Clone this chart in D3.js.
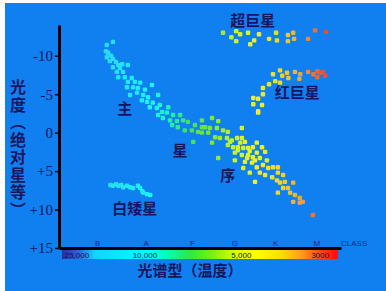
<!DOCTYPE html>
<html>
<head>
<meta charset="utf-8">
<script src="https://cdn.jsdelivr.net/npm/d3@7"></script>
<style>
body { margin: 0; background: #fff; }
svg { display: block; }
.cjk { font-family: "Noto Sans CJK SC", sans-serif; font-weight: bold; fill: #16165e; }
.tick text { font-family: "Liberation Serif", serif; font-size: 15px; fill: #14145a; }
.small { font-family: "Liberation Sans", Arial, sans-serif; font-size: 8px; }
</style>
</head>
<body>
<div id="chart"></div>
<script>
var w = 386,
	h = 291;

// x = spectral position (B0 = 10, A0 = 20 ... M0 = 60), y = absolute magnitude
var mainSequence = [
	[12.1,-11.4],[13.5,-11.8],[11.9,-10.6],[12.4,-10.4],[13.1,-10.0],[12.1,-9.8],[13.5,-9.6],
	[12.8,-9.3],[14.2,-9.2],[14.7,-8.8],[13.5,-8.5],[15.6,-8.9],[16.9,-8.8],[15.1,-8.4],
	[14.4,-7.9],[15.8,-7.9],[14.7,-7.2],[16.2,-7.2],[17.8,-7.1],[16.9,-6.6],[18.5,-6.6],
	[16.7,-5.9],[18.1,-5.9],[19.7,-6.5],[19.2,-5.8],[20.8,-5.6],[22.4,-6.2],[17.4,-4.9],
	[19.0,-5.2],[20.4,-4.9],[21.5,-4.6],[23.8,-4.9],[20.1,-4.2],[21.3,-4.0],[22.6,-3.9],
	[24.2,-3.6],[26.1,-3.3],[21.9,-3.3],[23.5,-3.2],[24.7,-2.7],[25.8,-2.6],[27.2,-2.3],
	[28.8,-2.3],[23.8,-2.3],[24.9,-1.9],[26.5,-1.6],[28.1,-1.5],[29.5,-1.6],[30.6,-1.4],
	[32.2,-1.0],[33.8,-0.7],[27.0,-1.0],[28.3,-0.7],[29.9,-0.3],[31.5,-0.3],[32.9,-0.1],
	[33.8,-1.6],[36.1,-1.9],[37.5,-1.5],[34.5,-0.7],[35.6,-0.6],[37.2,-0.6],[38.6,-0.3],
	[39.7,-0.1],[33.8,0.0],[35.2,0.0],[36.8,0.6],[37.9,0.7],[31.8,1.2],[36.1,1.3],[42.9,-0.6],
	[39.5,0.7],[40.6,1.0],[41.8,0.7],[42.9,0.7],[43.6,1.2],[39.7,1.6],[40.9,1.9],[42.0,1.9],
	[43.2,2.0],[44.3,2.0],[45.4,1.9],[46.3,1.3],[47.5,1.9],[48.2,2.5],[41.3,2.6],[42.9,2.9],
	[44.3,2.9],[45.4,3.2],[46.3,2.6],[47.0,3.3],[48.6,3.6],[37.5,3.3],[41.3,3.6],[43.6,3.8],
	[45.2,3.9],[46.3,4.5],[47.7,4.2],[48.9,4.6],[50.0,4.5],[51.1,4.5],[43.2,4.6],[44.7,5.2],
	[47.0,5.2],[48.2,5.5],[49.8,5.8],[51.1,5.2],[52.3,5.5],[45.9,6.4],[50.9,6.2],[51.6,6.5],
	[52.7,6.4],[54.6,6.5],[51.1,7.8],[52.3,7.2],[53.4,7.2],[53.9,7.8],[55.0,8.1],[56.1,8.5],
	[56.8,9.0],[56.1,9.1],[54.6,9.0],[59.1,10.7],
	[40.2,1.2],[42.5,1.3],[44.7,2.4],[45.9,3.6],[42.0,2.3],[44.1,3.3]
];

var whiteDwarfs = [
	[12.9,6.8],[13.5,6.9],[14.2,6.7],[14.7,6.9],[15.4,6.8],[15.8,7.1],[16.7,6.9],[17.4,7.1],
	[18.1,7.2],[19.2,6.9],[19.7,7.2],[20.2,7.6],[20.4,7.8],[21.3,8.0],[22.0,8.1]
];

var redGiants = [
	[50.0,-7.6],[51.6,-8.1],[52.1,-7.4],[53.2,-7.8],[53.5,-7.1],[55.0,-7.9],[56.2,-7.6],[56.0,-7.0],
	[58.0,-7.9],[59.2,-7.6],[60.1,-8.0],[60.7,-7.8],[61.4,-7.9],[60.1,-7.2],[61.9,-7.4],
	[51.6,-6.5],[50.5,-6.7],[49.1,-6.3],[47.7,-5.8],[47.7,-5.0],[45.5,-4.5],[46.6,-4.4],
	[45.5,-3.7],[47.5,-3.6],[46.6,-2.8],[46.6,-2.6]
];

var supergiants = [
	[38.6,-13.0],[40.5,-12.4],[41.6,-13.2],[41.6,-11.9],[42.5,-12.8],[44.3,-13.0],[44.8,-11.5],
	[45.7,-12.0],[46.8,-12.8],[49.1,-12.2],[50.7,-13.0],[50.9,-12.0],[53.4,-12.7],[54.6,-13.0],
	[53.4,-11.9],[54.8,-12.2],[58.0,-12.2],[59.6,-13.3],[62.1,-13.1]
];

var yTicks = [-10, -5, 0, 5, 10, 15];
var yTickLabels = ['-10', '-5', '0', '+5', '+10', '+15'];

var classNames = ['B', 'A', 'F', 'G', 'K', 'M'];
var classPos = [10, 21.1, 31.6, 41.3, 50.6, 60];

var tempLabels = ['25,000', '10,000', '5,000', '3000'];
var tempPos = [2.5, 18, 40.5, 58.7];

// colour band along the spectral axis
var bandPos = [1.9, 6, 9.4, 22, 26, 31, 35.7, 41.4, 46, 51.6, 56.2, 60.3, 64.2];
var bandColors = ['#2b2ba0', '#2f6ae0', '#10d8f8', '#00ffff', '#00ffb0', '#30e840', '#70f010',
	'#d8ff00', '#ffff00', '#ffe000', '#ffa020', '#ff5010', '#ff1010'];

var regionLabels = [
	{ text: '超巨星', x: 45.4, y: -14.5 },
	{ text: '红巨星', x: 55.5, y: -5.2 },
	{ text: '主', x: 16.2, y: -3.1 },
	{ text: '星', x: 28.8, y: 2.3 },
	{ text: '序', x: 39.7, y: 5.6 },
	{ text: '白矮星', x: 18.5, y: 9.9 }
];

var x = d3.scaleLinear().domain([1.2, 65.5]).range([59, 341]);
var y = d3.scaleLinear().domain([-14, 15]).range([25, 248]);
var color = d3.scaleLinear().domain(bandPos).range(bandColors).clamp(true);

var svg = d3.select('#chart').append('svg')
	.attr('width', w)
	.attr('height', h);

svg.append('rect')
	.attr('x', 5)
	.attr('y', 3)
	.attr('width', w - 5)
	.attr('height', h - 3)
	.attr('fill', '#1080f0');

// colour bar gradient
var grad = svg.append('defs').append('linearGradient')
	.attr('id', 'band')
	.attr('gradientUnits', 'userSpaceOnUse')
	.attr('x1', x(bandPos[0])).attr('x2', x(bandPos[bandPos.length - 1]))
	.attr('y1', 0).attr('y2', 0);
grad.selectAll('stop')
	.data(bandPos)
	.enter().append('stop')
		.attr('offset', function(d){ return (x(d) - x(bandPos[0])) / (x(bandPos[bandPos.length - 1]) - x(bandPos[0])); })
		.attr('stop-color', function(d,i){ return bandColors[i]; });

svg.append('rect')
	.attr('x', 62)
	.attr('y', 250)
	.attr('width', x(64.8) - 62)
	.attr('height', 9)
	.attr('fill', 'url(#band)');

// stars
var groups = [mainSequence, whiteDwarfs, redGiants, supergiants];
groups.forEach(function(data){
	svg.append('g').selectAll('rect')
		.data(data)
		.enter().append('rect')
			.attr('x', function(d){ return x(d[0]) - 2.2; })
			.attr('y', function(d){ return y(d[1]) - 2.2; })
			.attr('width', 4.4)
			.attr('height', 4.4)
			.attr('rx', 1.2)
			.attr('fill', function(d){ return d3.interpolateRgb(color(d[0]), '#9fb8c8')(0.18); });
});

// axes
var yAxis = d3.axisLeft(y)
	.tickValues(yTicks)
	.tickSize(4)
	.tickSizeOuter(0)
	.tickPadding(2)
	.tickFormat(function(d,i){ return yTickLabels[i]; });
var ga = svg.append('g')
	.attr('transform', 'translate(59,0)')
	.call(yAxis);
ga.select('.domain').attr('stroke', '#000').attr('stroke-width', 3);
ga.selectAll('.tick line').attr('stroke', '#000').attr('stroke-width', 1.5);

var gx = svg.append('g')
	.attr('transform', 'translate(0,248)')
	.call(d3.axisBottom(x).tickValues([]).tickSizeOuter(0));
gx.select('.domain').attr('stroke', '#000').attr('stroke-width', 3);

svg.selectAll('.cls')
	.data(classNames)
	.enter().append('text')
		.attr('class', 'small')
		.attr('x', function(d,i){ return x(classPos[i]); })
		.attr('y', 245.5)
		.attr('text-anchor', 'middle')
		.attr('fill', '#24248a')
		.text(function(d){ return d; });

svg.append('text')
	.attr('class', 'small')
	.attr('x', 341)
	.attr('y', 245.5)
	.attr('fill', '#24248a')
	.text('CLASS');

svg.selectAll('.temp')
	.data(tempLabels)
	.enter().append('text')
		.attr('class', 'small')
		.attr('x', function(d,i){ return x(tempPos[i]); })
		.attr('y', 258)
		.attr('fill', '#141450')
		.text(function(d){ return d; });

// region labels
svg.selectAll('.region')
	.data(regionLabels)
	.enter().append('text')
		.attr('class', 'cjk')
		.attr('x', function(d){ return x(d.x); })
		.attr('y', function(d){ return y(d.y); })
		.attr('dy', '0.35em')
		.attr('text-anchor', 'middle')
		.style('font-size', '15px')
		.text(function(d){ return d.text; });

// axis titles
svg.append('text')
	.attr('class', 'cjk')
	.attr('x', 190)
	.attr('y', 276)
	.attr('text-anchor', 'middle')
	.style('font-size', '15px')
	.text('光谱型（温度）');

svg.append('text')
	.attr('class', 'cjk')
	.attr('x', 18)
	.attr('y', 79)
	.style('font-size', '16px')
	.style('letter-spacing', '1.5px')
	.style('writing-mode', 'vertical-rl')
	.text('光度（绝对星等）');
</script>
</body>
</html>
